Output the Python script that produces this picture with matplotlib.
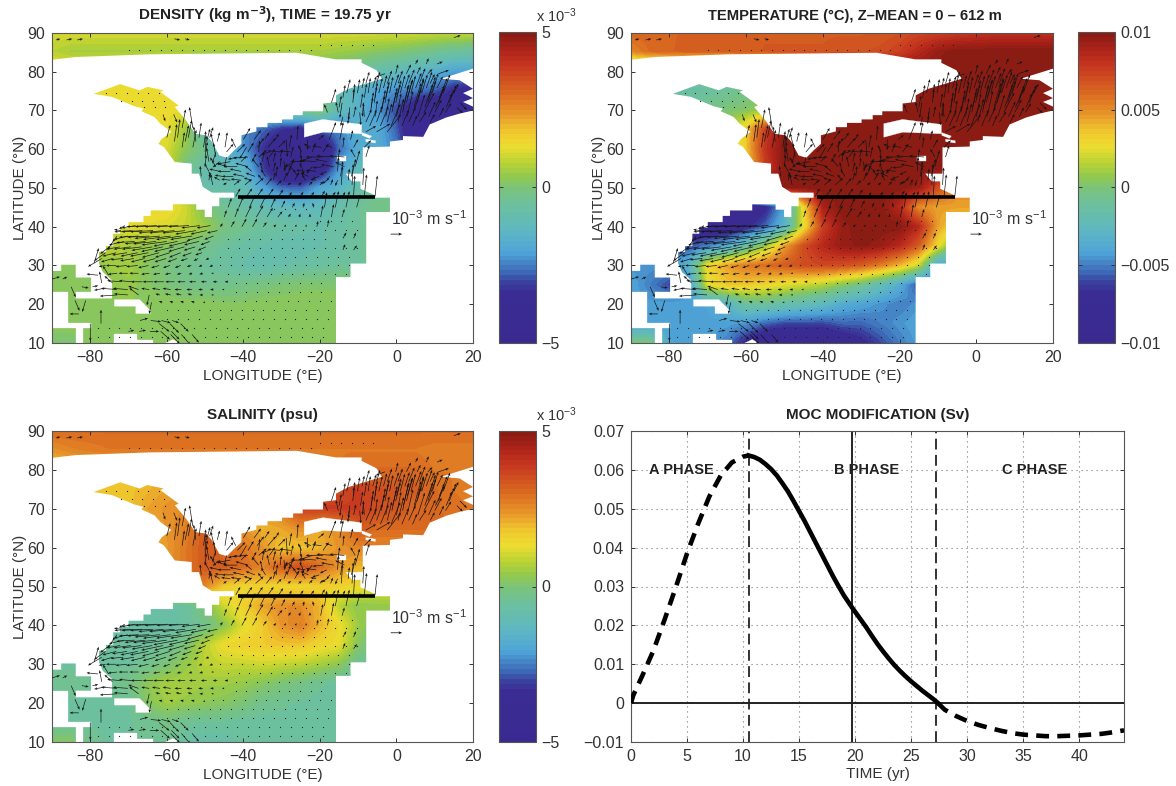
import numpy as np
from matplotlib import pyplot as plt
from matplotlib.colors import LinearSegmentedColormap
from matplotlib.patches import Polygon

plt.rcParams["font.family"] = ["Liberation Sans", "DejaVu Sans"]
plt.rcParams["mathtext.default"] = "regular"
INK = "#333333"

# colour fields, rows from 90N to 10N every 5 deg, columns from 90W to 20E every 5 deg
LONS = list(range(-90, 25, 5))
LATS = list(range(90, 5, -5))
DENSITY = [  # 1e-4 kg/m3
    [11, 11, 11, 11, 11, 11, 11, 11, 11, 11, 11, 11, 11, 11, 11, 11, 11, 11, 11, 11, 10, 10, 10],
    [8, 6, 6, 6, 6, 6, 6, 6, 6, 6, 6, 6, 6, 6, 6, 5, 4, 2, 1, -1, -3, -5, -6],
    [14, 14, 14, 14, 14, 14, 14, 10, 5, 0, 0, 0, 0, 0, 0, -2, -5, -8, -11, -14, -16, -20, -20],
    [14, 14, 14, 14, 14, 14, 13, 12, 10, 5, 0, 0, 0, 0, -4, -9, -15, -20, -23, -25, -28, -34, -36],
    [13, 13, 13, 13, 13, 13, 13, 13, 8, 0, -5, -5, -5, 0, 2, -11, -16, -22, -30, -40, -42, -40, -38],
    [12, 12, 12, 12, 12, 12, 13, 5, -10, -22, -24, -27, -32, -35, -27, -24, -17, -18, -28, -42, -42, -42, -42],
    [12, 12, 12, 12, 12, 12, 11, 3, -3, -17, -22, -32, -44, -45, -45, -27, -18, -18, -25, -40, -42, -42, -42],
    [12, 12, 12, 12, 12, 12, 10, -2, -8, -10, -14, -30, -46, -47, -40, -22, -12, -12, -12, -12, -12, -12, -12],
    [12, 12, 12, 12, 12, 12, 8, -6, -8, -8, -10, -20, -27, -28, -20, -15, -8, -5, -5, -5, -5, -5, -5],
    [15, 15, 15, 15, 15, 15, 15, 10, 1, -4, -7, -10, -12, -13, -12, -8, -5, -2, -2, -2, -2, -2, -2],
    [12, 12, 12, 10, 12, 12, 11, 9, 5, -1, -3, -5, -6, -7, -8, -7, -5, -3, -3, -3, -3, -3, -3],
    [8, 8, 8, 8, 6, 4, 2, 0, -3, -5, -7, -8, -9, -9, -8, -7, -5, -3, -3, -3, -3, -3, -3],
    [3, 3, 3, 5, 6, 2, -1, -3, -5, -6, -8, -9, -8, -7, -6, -5, -5, -4, -4, -4, -4, -4, -4],
    [3, 3, 3, 3, 4, 2, 0, -2, -3, -3, -2, -1, 0, 1, 1, 1, 1, 1, 1, 1, 1, 1, 1],
    [3, 3, 3, 3, 3, 3, 3, 3, 3, 2, 2, 3, 3, 3, 3, 3, 3, 3, 3, 3, 3, 3, 3],
    [3, 3, 3, 3, 3, 3, 3, 3, 3, 3, 3, 3, 3, 3, 3, 3, 3, 3, 3, 3, 3, 3, 3],
    [0, 0, 3, 3, 3, 3, 3, 3, 3, 3, 3, 3, 3, 3, 3, 3, 3, 3, 3, 3, 3, 3, 3],
]
TEMPERATURE = [  # 1e-4 degC
    [62, 62, 62, 63, 63, 64, 64, 65, 65, 65, 65, 65, 65, 66, 68, 72, 74, 76, 78, 80, 80, 80, 80],
    [52, 60, 62, 64, 64, 64, 64, 66, 66, 66, 66, 68, 68, 70, 75, 85, 95, 100, 100, 100, 100, 100, 100],
    [-8, -8, -8, -8, -8, -8, -5, 0, 50, 90, 100, 100, 100, 100, 100, 100, 100, 100, 100, 100, 100, 100, 100],
    [-15, -15, -15, -15, -12, -10, -5, -2, 20, 80, 100, 100, 100, 100, 100, 100, 100, 100, 100, 100, 100, 100, 100],
    [-5, -5, -5, -5, -5, 0, 3, 10, 60, 100, 100, 100, 100, 100, 100, 100, 100, 100, 100, 100, 100, 100, 100],
    [5, 5, 5, 5, 5, 8, 35, 75, 100, 100, 100, 100, 100, 100, 100, 100, 100, 100, 100, 100, 100, 100, 100],
    [-3, -3, -3, -3, -3, 5, 35, 80, 100, 100, 100, 100, 100, 100, 100, 100, 100, 100, 100, 100, 100, 100, 100],
    [10, 10, 10, 10, 10, 10, 30, 75, 100, 100, 100, 100, 100, 100, 100, 100, 100, 100, 100, 100, 100, 100, 100],
    [60, 60, 60, 60, 60, 60, 80, 100, 100, 100, 100, 100, 100, 100, 100, 95, 70, 50, 50, 50, 50, 50, 50],
    [-85, -85, -85, -85, -85, -85, -85, -70, -40, 30, 90, 100, 100, 100, 85, 50, 45, 45, 45, 45, 45, 45, 45],
    [-80, -80, -80, -80, -80, -85, -70, -55, -30, 25, 75, 95, 100, 100, 100, 85, 45, 30, 30, 30, 30, 30, 30],
    [-60, -60, -60, -60, -50, -35, -15, 10, 45, 70, 85, 95, 98, 95, 85, 65, 30, -10, -10, -10, -10, -10, -10],
    [-45, -45, -45, -30, 30, 45, 55, 60, 65, 70, 72, 70, 65, 55, 40, 20, -40, -40, -40, -40, -40, -40, -40],
    [-40, -50, -60, -45, 25, 35, 35, 30, 25, 20, 15, 5, -5, -20, -35, -60, -60, -60, -60, -60, -60, -60, -60],
    [-42, -42, -42, -42, -40, -30, -10, -10, -15, -20, -25, -35, -40, -45, -50, -45, -45, -45, -45, -45, -45, -45, -45],
    [-42, -42, -42, -42, -42, -42, -45, -55, -60, -60, -60, -55, -55, -50, -45, -40, -40, -40, -40, -40, -40, -40, -40],
    [0, 0, -40, -42, -42, -50, -70, -85, -90, -90, -90, -80, -70, -60, -50, -42, -42, -42, -42, -42, -42, -42, -42],
]
SALINITY = [  # 1e-4 psu
    [30, 30, 30, 30, 30, 30, 30, 30, 30, 30, 30, 30, 30, 30, 30, 30, 30, 30, 30, 30, 30, 30, 30],
    [24, 26, 27, 28, 28, 28, 28, 28, 28, 28, 28, 28, 28, 28, 28, 28, 28, 28, 28, 28, 27, 27, 27],
    [18, 18, 18, 18, 18, 18, 20, 24, 26, 28, 28, 28, 28, 28, 28, 28, 30, 30, 30, 30, 28, 28, 28],
    [17, 17, 17, 18, 18, 20, 22, 24, 26, 28, 30, 30, 32, 34, 35, 35, 38, 35, 33, 32, 30, 28, 27],
    [18, 18, 18, 18, 18, 22, 24, 25, 26, 26, 26, 26, 28, 37, 38, 38, 38, 35, 33, 30, 30, 29, 28],
    [20, 20, 20, 20, 20, 20, 24, 27, 33, 28, 24, 20, 22, 25, 22, 25, 33, 30, 30, 30, 30, 30, 30],
    [20, 20, 20, 20, 20, 20, 23, 28, 33, 30, 28, 24, 18, 18, 20, 24, 26, 26, 26, 26, 26, 26, 26],
    [20, 20, 20, 20, 20, 20, 24, 28, 33, 32, 30, 26, 32, 35, 30, 24, 20, 20, 20, 20, 20, 20, 20],
    [24, 24, 24, 24, 24, 24, 28, 30, 26, 17, 15, 16, 15, 15, 16, 16, 14, 12, 12, 12, 12, 12, 12],
    [-8, -8, -8, -8, -8, -8, -7, -6, 0, 10, 16, 22, 25, 25, 20, 8, 3, 4, 4, 4, 4, 4, 4],
    [-7, -7, -7, -7, -7, -7, -7, -6, -3, 3, 12, 17, 24, 27, 20, 14, 5, 0, 0, 0, 0, 0, 0],
    [-6, -6, -6, -6, -6, -5, -4, 0, 8, 14, 16, 17, 18, 18, 15, 13, 2, -3, -3, -3, -3, -3, -3],
    [-5, -5, -5, -5, -5, -3, 0, 4, 8, 9, 9, 10, 9, 8, 6, 3, -4, -5, -5, -5, -5, -5, -5],
    [-4, -4, -4, -4, -2, 3, 6, 6, 5, 5, 4, 2, 0, -2, -4, -6, -6, -6, -6, -6, -6, -6, -6],
    [-5, -5, -5, -5, -5, 2, 5, 4, 3, 2, 0, -3, -4, -5, -6, -6, -6, -6, -6, -6, -6, -6, -6],
    [-5, -5, -5, -5, -5, -4, -2, -4, -5, -5, -6, -6, -6, -6, -6, -6, -6, -6, -6, -6, -6, -6, -6],
    [2, 2, -4, -5, -5, -4, -4, -6, -8, -7, -6, -6, -5, -5, -5, -5, -5, -5, -5, -5, -5, -5, -5],
]

# ocean outline and land inside it, lon/lat
OCEAN = [(-90, 90), (20, 90), (20, 80.8), (11.6, 78.2), (16.5, 77.8), (20, 75.6), (17.4, 74.5), (20, 73.2),
         (17.4, 72.2), (20, 71), (20, 70), (16.5, 69.2), (13, 68.2), (8.7, 66.4), (7, 63.2), (1.7, 63.4),
         (1.7, 62.4), (-1.7, 62), (-1.7, 60.7), (-8.8, 60.5), (-8.8, 53.7), (-13.3, 53.7), (-11.6, 51.7),
         (-9.4, 51.7), (-9.4, 49.8), (-5.6, 48.1), (-5.6, 47.5), (-1.7, 47.5), (-1.7, 43.8), (-7.9, 43.8),
         (-7.9, 30.5), (-12, 30.5), (-12, 27), (-15.8, 27), (-15.8, 10), (-90, 10), (-90, 28.6), (-87.6, 28.6),
         (-87.6, 30.2), (-83.8, 30.2), (-83.8, 26.9), (-79.8, 26.9), (-79.8, 23.2), (-83.8, 23.2), (-83.8, 21.5),
         (-74.3, 21.5), (-74.3, 26.2), (-76.7, 28.3), (-77.7, 30.5), (-77.7, 33.5), (-75.9, 33.5), (-75.9, 35),
         (-74, 35), (-74, 38.2), (-72.2, 38.2), (-72.2, 39.7), (-70, 39.7), (-70, 41.2), (-66.1, 41.2),
         (-66.1, 42.8), (-64.2, 42.8), (-64.2, 44.2), (-58.4, 44.2), (-58.4, 45.8), (-52.3, 45.8), (-52.3, 44.4),
         (-50.1, 44.4), (-50.1, 42.5), (-48.2, 42.5), (-48.2, 45.3), (-46.3, 45.3), (-46.3, 47.5), (-42.4, 47.5),
         (-42.4, 48.8), (-48.2, 48.8), (-50.6, 50.3), (-51.6, 53.7), (-53.5, 53.7), (-53.5, 56.3), (-57.9, 56.7),
         (-60.8, 60.6), (-62.2, 61.4), (-61.3, 62.7), (-58.8, 64.5), (-61.7, 66.6), (-63.2, 68.3), (-66.6, 69.8),
         (-66.1, 70.5), (-68.5, 71.1), (-74.3, 73.5), (-79.1, 74.3), (-72.2, 76.8), (-67.1, 75.2), (-65.1, 76.1),
         (-60.8, 75.2), (-61.7, 74.8), (-56.9, 71.3), (-57.9, 70.9), (-55, 67.5), (-52.6, 64), (-49.7, 63.6),
         (-48.2, 61.9), (-46.3, 58.4), (-44.3, 57.8), (-42.4, 59.7), (-40.5, 61.4), (-40.5, 63.6), (-36.6, 64.6),
         (-36.6, 65.7), (-33.7, 65.7), (-33.7, 66.8), (-29.9, 66.8), (-29.9, 67.7), (-27, 67.7), (-27, 68.8),
         (-24.5, 68.8), (-24.5, 69.8), (-19.2, 69.8), (-19.2, 71.8), (-15.8, 72.2), (-15.8, 73.9), (-12.5, 75.6),
         (-3.8, 78.2), (-5.2, 80.4), (-9.1, 82.3), (-9.1, 83.2), (-15.8, 83.2), (-26, 84.9), (-64.6, 84.5),
         (-83.8, 83.8), (-90, 83.1)]
LAND = [
    [(-90, 23.2), (-85.9, 23.2), (-85.9, 15.2), (-79.8, 15.2), (-79.8, 13.9), (-81.8, 13.9), (-81.8, 10),
     (-83.8, 10), (-83.8, 13.9), (-90, 13.9)],
    [(-73.7, 21.2), (-67.1, 21.2), (-64.3, 18.4), (-64.3, 17.6), (-68.1, 17.6), (-68.1, 19.5), (-73.7, 19.5)],
    [(-73.8, 12.2), (-67.8, 12.2), (-67.8, 10.7), (-63.7, 10.7), (-63.7, 10), (-73.8, 10)],
    [(-60.3, 10), (-58.4, 10.9), (-56.9, 10)],
    [(-24.1, 66.6), (-19.2, 67.7), (-9.1, 66.4), (-9.1, 64), (-14.3, 64.2), (-19.2, 64.4), (-24.1, 63.1)],
    [(-9, 64.3), (-6.5, 63.4), (-7, 62.8), (-9, 63.6)],
    [(-8, 62.6), (-5.5, 62.2), (-5.5, 61.6), (-8, 62)],
    [(-15.5, 58.2), (-13.2, 58.2), (-13.2, 56.9), (-15.5, 56.9)],
]

# velocity anomaly, 1e-3 m/s: lat, first lon, u, v (lon step 2.8 deg)
ARROW_ROWS = [
    (40.3, -71, [-.5, -1.2, -1.7, -1.9, -2.0, -1.9, -1.8, -1.6, -1.2], [-.3, -.2, -.1, -.1, -.1, -.1, -.1, -.2, -.2]),
    (39.0, -72, [-.6, -1.5, -1.8, -2.0, -2.2, -2.2, -2.0, -1.8, -1.4, -.9], [.1, -.1, -.1, -.1, -.2, -.2, -.2, -.3, -.3, -.2]),
    (37.6, -73, [-.4, -1.2, -1.7, -1.9, -2.2, -2.4, -2.2, -1.9, -1.4, -.8], [-.5, -.3, -.1, -.1, -.2, -.3, -.3, -.3, -.4, -.3]),
    (36.2, -74, [-.5, -1.3, -1.6, -1.8, -2.0, -2.2, -2.1, -1.7, -1.3, -.8], [-.7, -.3, -.1, -.2, -.2, -.3, -.4, -.4, -.3, -.3]),
    (34.8, -75, [-.8, -1.2, -1.5, -1.7, -1.8, -1.9, -1.7, -1.4, -1.0, -.7], [-.6, -.2, -.2, -.2, -.3, -.4, -.4, -.4, -.3, -.3]),
    (33.3, -76, [-1.0, -1.2, -1.3, -1.5, -1.6, -1.5, -1.3, -1.0, -.8, -.6], [-.7, -.3, -.2, -.3, -.3, -.4, -.4, -.4, -.3, -.2]),
    (31.8, -77, [-1.2, -1.0, -1.1, -1.2, -1.2, -1.1, -1.0, -.8, -.6, -.4, -.3], [-.7, -.3, -.1, -.2, -.3, -.3, -.3, -.3, -.2, -.2, -.1]),
    (30.0, -76, [-.6, -.9, -1.0, -1.0, -.9, -.7, -.6, -.5, -.4, -.3, -.3], [-.1, 0, -.1, -.1, -.2, -.2, -.2, -.2, -.1, -.1, -.1]),
    (28.0, -73, [-.8, -.8, -.8, -.7, -.6, -.5, -.4, -.3, -.3, -.2], [-.1, 0, 0, -.1, -.1, -.1, -.1, -.1, -.1, 0]),
    (25.8, -72, [-1.2, -1.1, -1.0, -.9, -.9, -.8, -.7, -.6, -.5, -.4, -.3], [.1, .1, 0, 0, 0, 0, 0, 0, 0, 0, 0]),
    (23.8, -73, [-1.4, -1.3, -.9, -.7, -.7, -.7, -.6, -.5, -.4, -.3, -.2], [.1, .1, .3, .1, .1, .1, 0, 0, 0, 0, 0]),
    (22.4, -73, [-1.5, -1.2, -.8, -.2, -.4, -.5, -.5, -.4, -.3, -.2], [-.1, .1, .6, -.9, .1, .1, .1, .1, 0, 0]),
    (20.5, -64, [-.2, -.3, -.3, -.3, -.3, -.2], [-1.0, .1, .1, .1, .1, 0]),
    (30.6, -79, [.4], [1.3]),
    (27.5, -78, [-1.0, -.5], [.1, .8]),
    (25.5, -77, [-.2, -.7], [1.0, .6]),
    (24.2, -76, [-1.0], [-.2]),
    (26.5, -90, [.7, .4], [.2, .2]),
    (24.5, -85, [.4, .6, .5], [-.9, -.1, .1]),
    (21.0, -84, [.4, -.3], [-.9, -1.0]),
    (17.5, -83, [-.8], [0]),
    (15.0, -80, [0, 0], [-1.5, 1.2]),
    (15.8, -67, [.7, .9, .8, .6], [.2, -.1, -.2, -.2]),
    (13.0, -70, [.5, .6, .8, .8, .7], [.1, .1, 0, -.7, -.7]),
    (12.2, -59, [.8, .8, .6], [-.8, -.9, -.7]),
    (15.0, -62, [.9, .8, .7], [-.7, -.8, -.7]),
    (45.0, -44, [.3, .4, .5, .5, .4, .3, .2, .1, -.1, .2, .3, .3, .3], [.8, .9, 1.1, 1.0, .8, .6, .4, .4, .4, 1.3, 1.4, 1.4, 1.1]),
    (42.5, -45, [.2, .3, .5, .6, .5, .4, .2, .1, 0, .2, .2, .2], [.6, .8, 1.0, 1.0, .8, .5, .3, .3, .3, 1.0, 1.1, .7]),
    (40.0, -46, [.2, .3, .4, .4, .3, .2, .1, .1, 0, .1, .1], [.3, .5, .7, .7, .4, .2, .2, .2, .2, .5, .6]),
    (37.0, -14, [.3, .2], [.5, .5]),
    (34.0, -14, [.2, .3], [.5, .4]),
    (47.8, -42, [.4, .5, .5, .5, .4, .2, .3, .3, .3, .3, .2, .1, .2, .2], [.7, .7, .7, .7, .6, .4, .4, .4, .5, .4, .4, 1.8, 1.9, 1.8]),
    (50.8, -48, [-.2, .3, .5, .6, .7, .5, .4, .3, .3, .3, .3, .2, .1, .1, .1], [.9, .2, .4, .5, .6, .6, .4, .2, .2, .3, .3, .5, 1.6, 1.8, 1.5]),
    (52.0, -49, [.1, -.5, -.8, -.9, -.7, -.4, .2, .3, .4, -.3, -.5, -.4, -.2, .1], [.6, .3, .1, .1, .2, .5, .7, .7, .7, .5, .1, -.3, -.5, 1.0]),
    (53.0, -51, [-.1, -.3, -.7, -1.0, -1.0, -.8, -.4, .1, .3, -.4, -.7, -.6, -.3, .2, .4], [.9, .4, .1, 0, .2, .3, .6, .9, .8, .6, .3, -.2, -.4, 1.3, 1.5]),
    (54.3, -49, [-.4, -.9, -1.1, -1.0, -.6, -.2, .2, .3, -.5, -.8, -.9, -.6, .1], [.7, .2, 0, .2, .5, .8, .8, .7, .5, .1, .1, -.3, 1.2]),
    (55.5, -50, [.1, -.5, -.9, -1.2, -1.1, -.6, -.2, .1, .3, .2, -.5, -.9, -1.1, -.8, .4], [1.0, .8, .3, 0, .3, .7, .9, .8, .7, -.7, -.6, -.1, .2, .4, 1.4]),
    (56.8, -49, [-.2, -.6, -1.1, .5, .4, .1, .2, .1, -.9, -1.3, -1.3, -1.0, .2], [1.2, -.5, -.2, .5, .7, .8, .8, -.8, -.5, 0, .1, .2, 1.1]),
    (58.0, -50, [.2, -.2, -.2, -.8, -1.3, .7, .5, .2, .2, -.1, -1.2, -1.5, -1.5, -1.3, -.4, .3], [1.3, 1.2, -.9, -.2, -.1, .6, .7, .7, .9, -.9, -.4, 0, .1, .1, .7, 1.0]),
    (59.3, -50, [.1, -.3, .6, .7, .5, .1, -.7, -1.1, -1.0, -.3, .3, .5], [1.4, -1.0, .7, .7, .8, 1.0, -.2, .1, .1, .6, .8, .7]),
    (60.5, -56, [.2, .3, .2, -.3, .2, -.4, -.6, .6, .7, .6, .2, .1, -.6, -.8, -.6, .1, .4, .6], [1.3, 1.5, 1.4, 1.2, 1.3, .8, -1.0, .8, .8, .6, 1.1, -1.0, .3, .1, .2, .9, .7, .6]),
    (62.0, -58, [.2, .3, -.2, .3, .2], [1.5, 1.4, 1.3, 1.1, .8]),
    (63.0, -60, [.3, .2, .3, .2, .3], [1.1, 1.6, 1.5, 1.3, .9]),
    (62.5, -40, [.6, .6, .4, .3, .1, .1, 0, .5, .6, .3, .2], [1.0, .8, .6, .5, -1.5, 1.2, -.9, .4, 1.5, 1.5, .8]),
    (65.5, -56, [.3, -.3], [1.6, 1.8]),
    (69.0, -61, [.2, .3], [-.6, -.7]),
    (64.5, -8, [.9, 1.2, 1.2], [.5, .7, 1.5]),
    (66.0, -7, [.6, .7, .8, .6, .4], [1.4, 1.7, 1.9, 1.4, .9]),
    (67.0, -8, [.5, .5, .4, .5, .6, .6, .4], [1.1, 1.4, 1.6, 2.0, 1.3, .9, .7]),
    (68.4, -14, [-.2, .2, -.1, .2, .3, .4, .5, .6, .6, .4], [-.8, .9, 1.2, 1.4, 1.6, 2.0, 2.2, 1.9, 1.3, .8]),
    (69.5, -18, [-.3, -.2, -.1, .1, .2, .3, .4, .5, .7, .9, .6, .5], [.7, .9, -1.0, -1.1, 1.3, 1.4, 1.8, 2.3, 2.0, 1.7, 1.1, .8]),
    (70.8, -15, [.2, -.1, .2, .2, .3, .4, .5, .6, .7, .8, .5, .5], [1.0, -1.1, 1.2, 1.3, 1.5, 1.7, 2.0, 2.1, 2.0, 1.7, 1.2, -.5]),
    (72.0, -17, [.4, -.2, .1, -.1, .2, .3, .4, .5, .6, .7, .5, .6, .6], [1.2, -1.3, 1.2, -1.2, 1.4, 1.5, 1.6, 1.9, 2.0, 1.9, 1.5, 1.5, -.6]),
    (73.3, -14, [.2, .1, .2, .2, .3, .4, .5, .5, .6, .7, .4], [1.1, 1.2, 1.2, 1.3, 1.4, 1.5, 1.6, 1.7, 1.8, 1.7, .7]),
    (74.5, -13, [.3, .2, .2, .3, .3, .4, .4, .5, .5, .6, .4], [1.2, 1.2, 1.3, 1.3, 1.4, 1.5, 1.5, 1.6, 1.7, 1.6, .8]),
    (75.8, -9, [.2, .3, .3, .4, .4, .5, .5, .5], [.9, 1.0, 1.1, 1.2, 1.2, 1.3, 1.4, 1.0]),
    (77.0, -8, [.3, .3, .4, .4, .5, .5, .4], [1.0, 1.0, 1.1, 1.1, 1.2, 1.3, .8]),
    (79.5, -3, [-.8, .2, .4, .3, .4, .9], [-.3, .8, .8, .6, .4, .3]),
    (82.0, 5, [.2, .2, .5], [.4, .5, .2]),
    (88.2, -89, [.4, .5, .5], [.1, .1, .1]),
    (88.5, -58, [.5, .4], [-.1, -.1]),
    (88.8, 15, [.6], [.2]),
]
# near-still grid points drawn as dots: lat, first lon, last lon
DOT_ROWS = [(11.5, -78, -17), (13.8, -78, -17), (16.2, -60, -17), (18.5, -60, -17), (20.8, -48, -17), (23.2, -42, -17),
            (25.5, -42, -17), (27.8, -44, -13), (30, -46, -10), (32.3, -46, -10), (34.6, -44, -10), (36.9, -44, -18),
            (39.2, -30, -10), (41.5, -20, -10), (44.5, -32, -22), (74.5, -76, -62), (72.5, -72, -60), (70.8, -66, -58),
            (85.5, -70, -20), (87, -20, -5)]
KEY_U = [1]
KEY_V = [0]

MOC_A_T = [0, 0.2, 1, 2, 3, 4, 5, 6, 7, 8, 9, 10, 10.5]
MOC_A = [0, 0.002, 0.007, 0.0135, 0.0215, 0.0298, 0.0385, 0.0462, 0.0532, 0.0585, 0.0619, 0.0634, 0.0637]
MOC_B_T = [10.5, 11, 11.5, 12, 12.5, 13, 13.5, 14, 14.5, 15, 15.5, 16, 16.5, 17, 17.5, 18, 18.5, 19, 19.75, 20.5, 21, 21.5, 22,
           22.5, 23, 23.5, 24, 24.5, 25, 25.5, 26, 26.5, 27, 27.4]
MOC_B = [0.0637, 0.0633, 0.0626, 0.0615, 0.0602, 0.0586, 0.0566, 0.0545, 0.052, 0.0494, 0.0468, 0.044, 0.0412, 0.0384, 0.0356,
         0.0328, 0.0302, 0.0277, 0.0245, 0.0215, 0.0195, 0.0173, 0.0152, 0.0133, 0.0115, 0.0098, 0.0083, 0.0069, 0.0056, 0.0044,
         0.0032, 0.0021, 0.001, 0]
MOC_C_T = [27.4, 28, 29, 30, 31, 32, 33, 34, 35, 36, 37, 38, 39, 40, 41, 42, 43, 44]
MOC_C = [0, -0.0017, -0.0033, -0.0046, -0.0056, -0.0064, -0.0071, -0.0077, -0.0081, -0.0083, -0.0085, -0.0085, -0.0084,
         -0.0083, -0.0081, -0.0079, -0.0075, -0.007]

# matlab-like jet variant, 64 steps: value on the -5..5 bar, colour
RAMP_AT = [-5, -3.4, -3.1, -2.75, -2.1, -1.35, -0.6, 0, 0.35, 0.8, 1.3, 1.75, 2.4, 3.05, 3.9, 4.45, 5]
RAMP = ["#3a2a90", "#3a2c94", "#3a3f9e", "#3d6cb8", "#4fa5d8", "#5fb8c0", "#6cc0a0", "#7cc47a", "#90c850", "#b9d233",
        "#ecdd30", "#f0cc2e", "#e8962a", "#d96a20", "#c83a20", "#b0241a", "#8b1c14"]
cmap = LinearSegmentedColormap.from_list("ramp", [((v + 5) / 10, c) for v, c in zip(RAMP_AT, RAMP)], N=64)

W, H = 1176, 786
fig = plt.figure(figsize=(W / 100, H / 100), dpi=100)


def box(x0, x1, y0, y1):
    return fig.add_axes([x0 / W, 1 - y1 / H, (x1 - x0) / W, (y1 - y0) / H])


def style(ax):
    ax.tick_params(direction="in", top=True, right=True, length=3, width=0.7, labelsize=11.5,
                   colors=INK, pad=5)
    for spine in ax.spines.values():
        spine.set_linewidth(0.8)
        spine.set_color("#555555")


def map_panel(pos, cpos, field, scale, title, title_size, title_x, cticks, clabels, exponent):
    ax = box(*pos)
    vmax = cticks[-1]
    im = ax.imshow(np.array(field, float) * scale, extent=(-92.5, 22.5, 7.5, 92.5), origin="upper", cmap=cmap,
                   vmin=-vmax, vmax=vmax, interpolation="bilinear", aspect="auto", zorder=1)
    ocean = Polygon(OCEAN, closed=True, transform=ax.transData, fc="none", ec="none")
    ax.add_patch(ocean)
    im.set_clip_path(ocean)
    for land in LAND:
        ax.add_patch(Polygon(land, closed=True, fc="white", ec="white", lw=0.2, zorder=2))
    for lat, lon0, lon1 in DOT_ROWS:
        lons = np.arange(lon0, lon1 + 0.1, 2.8)
        ax.plot(lons, [lat] * len(lons), ls="none", marker="o", ms=0.9, mec="none", color="#222222", zorder=3)
    for lat, lon0, us, vs in ARROW_ROWS:
        lons = lon0 + 2.8 * np.arange(len(us))
        ax.quiver(lons, [lat] * len(us), us, vs, angles="xy", scale_units="xy", scale=1 / 3, width=0.0016,
                  headwidth=4, headlength=5, headaxislength=4, color="#151515", zorder=4)
    ax.plot([-41.5, -5.5], [47.6, 47.6], color="black", lw=2.6, solid_capstyle="butt", zorder=5)
    ax.text(-1.5, 42, r"$10^{-3}$ m s$^{-1}$", fontsize=11.5, color=INK, va="center", ha="left", zorder=5, clip_on=False)
    ax.quiver([-1.5], [38.1], KEY_U, KEY_V, angles="xy", scale_units="xy", scale=1 / 3, width=0.0018, headwidth=4,
              headlength=5, headaxislength=4, color="#151515", zorder=5)
    ax.set_xlim(-90, 20)
    ax.set_ylim(10, 90)
    ax.set_xticks([-80, -60, -40, -20, 0, 20], ["\u221280", "\u221260", "\u221240", "\u221220", "0", "20"])
    ax.set_yticks(range(10, 100, 10))
    ax.set_xlabel("LONGITUDE (\u00b0E)", fontsize=11, color=INK, labelpad=3)
    ax.set_ylabel("LATITUDE (\u00b0N)", fontsize=11, color=INK, labelpad=0)
    ax.set_title(title, fontsize=title_size, fontweight="bold", color="#222222", pad=9, x=title_x)
    style(ax)
    cax = box(*cpos)
    cb = fig.colorbar(im, cax=cax)
    cb.set_ticks(cticks, labels=clabels)
    cax.tick_params(direction="in", left=True, right=True, length=3, width=0.7, labelsize=11.5, colors=INK, pad=4)
    cb.outline.set_linewidth(0.8)
    cb.outline.set_edgecolor("#555555")
    if exponent:
        cax.text(1.0, 1.022, r"x $10^{-3}$", transform=cax.transAxes, fontsize=10.5, color=INK, ha="left", va="bottom")


map_panel((52, 473, 33, 343), (499, 536, 32, 343), DENSITY, 0.1, r"DENSITY (kg m$^{\mathbf{-3}}$), TIME = 19.75 yr",
          11, 0.505, [-5, 0, 5], ["\u22125", "0", "5"], True)
map_panel((631, 1053, 33, 343), (1078, 1115, 32, 343), TEMPERATURE, 1e-4,
          "TEMPERATURE (\u00b0C), Z\u2013MEAN = 0 \u2013 612 m", 10.6, 0.53, [-0.01, -0.005, 0, 0.005, 0.01],
          ["\u22120.01", "\u22120.005", "0", "0.005", "0.01"], False)
map_panel((52, 473, 431, 742), (499, 536, 431, 742), SALINITY, 0.1, "SALINITY (psu)", 11, 0.5, [-5, 0, 5],
          ["\u22125", "0", "5"], True)

ax = box(631, 1124, 431, 742)
ax.plot(MOC_A_T, MOC_A, color="black", lw=3.3, ls=(0, (2.8, 1.8)), zorder=3)
ax.plot(MOC_B_T, MOC_B, color="black", lw=3.3, zorder=3)
ax.plot(MOC_C_T, MOC_C, color="black", lw=3.3, ls=(0, (2.8, 1.8)), zorder=3)
ax.axhline(0, color="#222222", lw=1.4)
ax.axvline(19.75, color="#222222", lw=1.4)
ax.axvline(10.5, color="#222222", lw=1.3, ls=(0, (6, 3)))
ax.axvline(27.2, color="#222222", lw=1.3, ls=(0, (6, 3)))
ax.grid(True, ls=(0, (1, 3.5)), lw=0.8, color="#777777")
for x, label in [(4.5, "A PHASE"), (21, "B PHASE"), (36, "C PHASE")]:
    ax.text(x, 0.06, label, fontsize=10.5, fontweight="bold", ha="center", va="center", color="#222222", zorder=4)
ax.set_xlim(0, 44)
ax.set_ylim(-0.01, 0.07)
ax.set_xticks(range(0, 45, 5))
ax.set_yticks(np.arange(-0.01, 0.071, 0.01),
              ["\u22120.01", "0", "0.01", "0.02", "0.03", "0.04", "0.05", "0.06", "0.07"])
ax.set_xlabel("TIME (yr)", fontsize=11, color=INK, labelpad=2)
ax.set_title("MOC MODIFICATION (Sv)", fontsize=11, fontweight="bold", color="#222222", pad=9)
style(ax)

fig.savefig("out.png", dpi=100)
